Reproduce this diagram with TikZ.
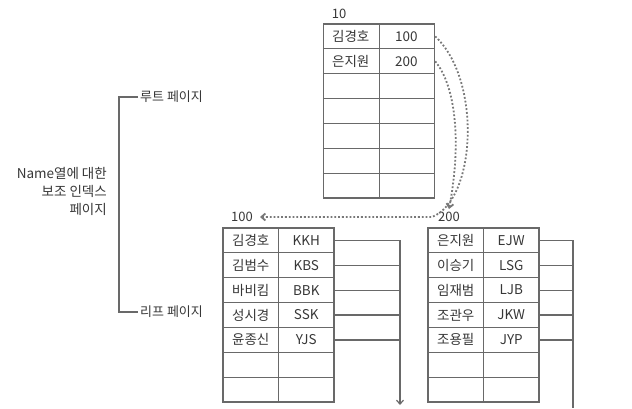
\documentclass[tikz,border=0pt]{standalone}
\usepackage{fontspec}
\setmainfont{Noto Sans CJK KR}
\usetikzlibrary{arrows.meta,calc}
\definecolor{linegray}{RGB}{105,105,105}
\definecolor{textgray}{RGB}{55,55,55}

\begin{document}
\begin{tikzpicture}[x=1pt,y=-1pt,
  % page frame: 7 rows x 2 columns
  page/.style={draw=linegray,line width=1.4pt,rectangle,inner sep=0pt,
               minimum width=111pt,minimum height=174pt},
  % text inside a cell
  cell/.style={font=\fontsize{13.5}{15}\selectfont,text=textgray,inner sep=0pt},
  % page numbers and side labels
  lbl/.style={font=\fontsize{13}{15}\selectfont,text=textgray,inner sep=2pt},
  rowline/.style={draw=linegray,line width=1pt},
  link/.style={draw=linegray,line width=1.2pt},
  ptr/.style={draw=linegray!90,line width=1.8pt,dotted,
              -{Straight Barb[length=4pt,width=7pt]}}
]
  \useasboundingbox (0,0) rectangle (632,408);

  % ---- Pages (frames) ----
  \node[page] (root) at (379,111)   {};
  \node[page] (pgA)  at (278.5,315) {};
  \node[page] (pgB)  at (483.5,315) {};
  \foreach \t in {root,pgA,pgB} {
    \draw[rowline] (\t.north) -- (\t.south);
    \foreach \k in {1,...,6}
      \draw[rowline] ($(\t.north west)!\k/7!(\t.south west)$)
                  -- ($(\t.north east)!\k/7!(\t.south east)$);
  }

  % ---- Page numbers ----
  \node[lbl] (pR) at (339,14)  {10};
  \node[lbl] (pA) at (242,217) {100};
  \node[lbl] (pB) at (449,217) {200};

  % ---- Root page ----
  \node[cell] (rn1) at (350.75,36.4) {김경호};
  \node[cell] (r1)  at (406.25,36.4) {100};
  \node[cell] (rn2) at (350.75,61.3) {은지원};
  \node[cell] (r2)  at (406.25,61.3) {200};

  % ---- Leaf page 100 ----
  \node[cell] (an1) at (250.75,240.4) {김경호};
  \node[cell] (a1)  at (306.25,240.4) {KKH};
  \node[cell] (an2) at (250.75,265.3) {김범수};
  \node[cell] (a2)  at (306.25,265.3) {KBS};
  \node[cell] (an3) at (250.75,290.1) {바비킴};
  \node[cell] (a3)  at (306.25,290.1) {BBK};
  \node[cell] (an4) at (250.75,315.0) {성시경};
  \node[cell] (a4)  at (306.25,315.0) {SSK};
  \node[cell] (an5) at (250.75,339.9) {윤종신};
  \node[cell] (a5)  at (306.25,339.9) {YJS};

  % ---- Leaf page 200 ----
  \node[cell] (bn1) at (455.75,240.4) {은지원};
  \node[cell] (b1)  at (511.25,240.4) {EJW};
  \node[cell] (bn2) at (455.75,265.3) {이승기};
  \node[cell] (b2)  at (511.25,265.3) {LSG};
  \node[cell] (bn3) at (455.75,290.1) {임재범};
  \node[cell] (b3)  at (511.25,290.1) {LJB};
  \node[cell] (bn4) at (455.75,315.0) {조관우};
  \node[cell] (b4)  at (511.25,315.0) {JKW};
  \node[cell] (bn5) at (455.75,339.9) {조용필};
  \node[cell] (b5)  at (511.25,339.9) {JYP};

  % ---- Root pointers (dotted, crossing) ----
  \draw[ptr] (r1 -| root.east) .. controls (482,80) and (476,200) .. (432,217)
             -- ([xshift=5pt]pA.east);
  \draw[ptr] (r2 -| root.east) .. controls (455,85) and (462,140) .. ([yshift=1pt]pB.north);

  % ---- Row links to data pages ----
  \coordinate (ca) at (400,405);
  \coordinate (cb) at (573,408);
  \draw[link,-{Straight Barb[length=4pt,width=7pt]}] (a1 -| pgA.east) -- (a1 -| ca) -- (ca);
  \foreach \r in {a2,a3,a4,a5}
    \draw[link] (\r -| pgA.east) -- (\r -| ca);
  \draw[link] (b1 -| pgB.east) -- (b1 -| cb) -- (cb);
  \foreach \r in {b2,b3,b4,b5}
    \draw[link] (\r -| pgB.east) -- (\r -| cb);

  % ---- Side labels ----
  \node[lbl,anchor=west] (rootlbl) at (138,97)  {루트 페이지};
  \node[lbl,anchor=west] (leaflbl) at (138,312) {리프 페이지};
  \coordinate (brk) at (119,0);
  \draw[link] (rootlbl.west) -- (rootlbl.west -| brk)
           -- (leaflbl.west -| brk) -- (leaflbl.west);
  \node[lbl,anchor=east,align=right,font=\fontsize{13.5}{18}\selectfont]
       (desc) at (109,191) {Name열에 대한\\보조 인덱스\\페이지};
\end{tikzpicture}
\end{document}
